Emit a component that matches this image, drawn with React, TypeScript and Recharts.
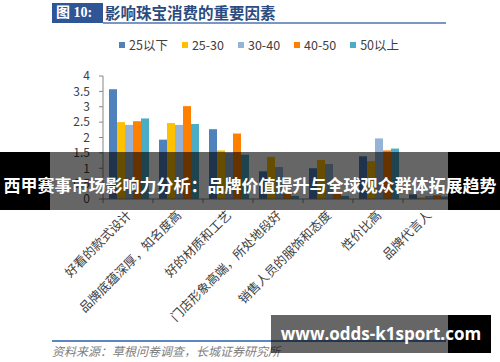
import React from 'react';
import { BarChart, Bar, XAxis, YAxis, Legend } from 'recharts';

const categories = [
  '好看的款式设计',
  '品牌底蕴深厚，知名度高',
  '好的材质和工艺',
  '门店形象高端，所处地段好',
  '销售人员的服饰和态度',
  '性价比高',
  '品牌代言人',
];
const seriesNames = ['25以下', '25-30', '30-40', '40-50', '50以上'];
const seriesColors = ['#4f81bd', '#ffc000', '#95b3d7', '#ff8000', '#4bacc6'];
const under25 = [3.57, 1.93, 2.27, 0.9, 1.0, 1.39, 0.15];
const from25to30 = [2.5, 2.47, 1.58, 1.37, 1.27, 1.23, 0.05];
const from30to40 = [2.41, 2.41, 1.5, 1.04, 1.14, 1.97, 0.1];
const from40to50 = [2.53, 3.02, 2.13, 0.17, 0.17, 1.58, 0.12];
const over50 = [2.62, 2.44, 1.44, 0.1, 0.1, 1.64, 0.08];
const seriesValues = [under25, from25to30, from30to40, from40to50, over50];
const yTicks = [0, 0.5, 1, 1.5, 2, 2.5, 3, 3.5, 4];

const data = categories.map((name, i) => {
  const row: Record<string, any> = { name };
  seriesNames.forEach((s, k) => {
    row[s] = seriesValues[k][i];
  });
  return row;
});

const FONT = '"Noto Sans CJK SC", "Noto Sans", sans-serif';
const AXIS = '#868686';
const TEXT = '#404040';

const XTick = (props: any) => {
  const { x, y, payload, index, visibleTicksCount } = props;
  const half = payload && typeof payload.offset === 'number' && payload.offset > 0 ? payload.offset : 25;
  const ax = x + 1;
  const ay = y + 14;
  return (
    <g>
      <line x1={x - half} x2={x - half} y1={y} y2={y + 4} stroke={AXIS} />
      {index === visibleTicksCount - 1 && (
        <line x1={x + half} x2={x + half} y1={y} y2={y + 4} stroke={AXIS} />
      )}
      <text
        x={ax}
        y={ay}
        textAnchor="end"
        dy="0.35em"
        transform={`rotate(-45 ${ax} ${ay})`}
        fontSize={12.5}
        fontFamily={FONT}
        fill={TEXT}
      >
        {payload.value}
      </text>
    </g>
  );
};

const LegendContent = () => (
  <div style={{ display: 'flex', alignItems: 'center', fontFamily: FONT, fontSize: 12.5, color: TEXT, lineHeight: '16px' }}>
    {seriesNames.map((n, i) => (
      <div key={n} style={{ display: 'flex', alignItems: 'center', marginRight: 14 }}>
        <span style={{ display: 'inline-block', width: 6, height: 6, background: seriesColors[i], marginRight: 4 }} />
        <span>{n}</span>
      </div>
    ))}
  </div>
);

export default function App() {
  return (
    <div style={{ position: 'absolute', left: 0, top: 0, width: 500, height: 362, background: '#fff', overflow: 'hidden' }}>
      {/* Title */}
      <div style={{ position: 'absolute', left: 52, top: 3, width: 51, height: 20, background: '#2f5597', color: '#fff', fontFamily: '"Liberation Serif", "Noto Sans CJK SC", serif', fontWeight: 700, fontSize: 14, lineHeight: '20px', paddingLeft: 4, boxSizing: 'border-box' }}>
        图 10:
      </div>
      <div style={{ position: 'absolute', left: 105, top: 3, height: 20, color: '#2b4c80', fontFamily: FONT, fontWeight: 700, fontSize: 15.5, lineHeight: '19px', whiteSpace: 'nowrap' }}>
        影响珠宝消费的重要因素
      </div>
      <div style={{ position: 'absolute', left: 103, top: 22, width: 343, height: 1.5, background: '#7b96c2' }} />

      <div style={{ position: 'absolute', left: 0, top: 0 }}>
        <BarChart
          width={500}
          height={362}
          data={data}
          margin={{ top: 76, right: 47, bottom: 43, left: 53 }}
          barCategoryGap="12%"
          barGap={0}
        >
          <XAxis
            dataKey="name"
            interval={0}
            tickLine={false}
            tickSize={0}
            tickMargin={0}
            axisLine={{ stroke: AXIS }}
            height={120}
            tick={<XTick />}
          />
          <YAxis
            domain={[0, 4]}
            ticks={yTicks}
            interval={0}
            width={50}
            tickSize={4}
            tickMargin={9}
            axisLine={{ stroke: AXIS }}
            tickLine={{ stroke: AXIS }}
            tick={{ fontSize: 12, fill: TEXT, fontFamily: FONT }}
          />
          <Legend
            layout="horizontal"
            verticalAlign="middle"
            align="center"
            wrapperStyle={{ top: 37, left: 119, width: 320, height: 18 }}
            content={<LegendContent />}
          />
          {seriesNames.map((s, i) => (
            <Bar key={s} dataKey={s} fill={seriesColors[i]} isAnimationActive={false} />
          ))}
        </BarChart>
      </div>

      {/* Source line */}
      <div style={{ position: 'absolute', left: 52, top: 340, width: 394, height: 1.5, background: '#5b87c5' }} />
      <div style={{ position: 'absolute', left: 52, top: 343, fontFamily: FONT, fontStyle: 'italic', fontSize: 12, color: '#808080', lineHeight: '16px', whiteSpace: 'nowrap' }}>
        资料来源：草根问卷调查，长城证券研究所
      </div>

      {/* Banner overlay */}
      <div style={{ position: 'absolute', left: 0, top: 152, width: 50, height: 58, background: '#000' }} />
      <div style={{ position: 'absolute', left: 50, top: 152, width: 398, height: 58, background: 'rgba(0,0,0,0.6)' }} />
      <div style={{ position: 'absolute', left: 448, top: 152, width: 52, height: 58, background: '#000' }} />
      <div style={{ position: 'absolute', left: 0, top: 172, width: 500, height: 26, lineHeight: '26px', textAlign: 'center', color: '#fff', fontFamily: FONT, fontWeight: 700, fontSize: 17, whiteSpace: 'nowrap' }}>
        西甲赛事市场影响力分析：品牌价值提升与全球观众群体拓展趋势
      </div>

      {/* Watermark */}
      <div style={{ position: 'absolute', left: 271, top: 315, width: 177, height: 38, background: 'rgba(0,0,0,0.6)' }} />
      <div style={{ position: 'absolute', left: 448, top: 315, width: 43, height: 38, background: '#000' }} />
      <div style={{ position: 'absolute', left: 271, top: 315, width: 220, height: 38, lineHeight: '38px', textAlign: 'center', color: '#fff', fontFamily: '"Open Sans", sans-serif', fontWeight: 700, fontSize: 17, whiteSpace: 'nowrap' }}>
        www.odds-k1sport.com
      </div>
    </div>
  );
}
